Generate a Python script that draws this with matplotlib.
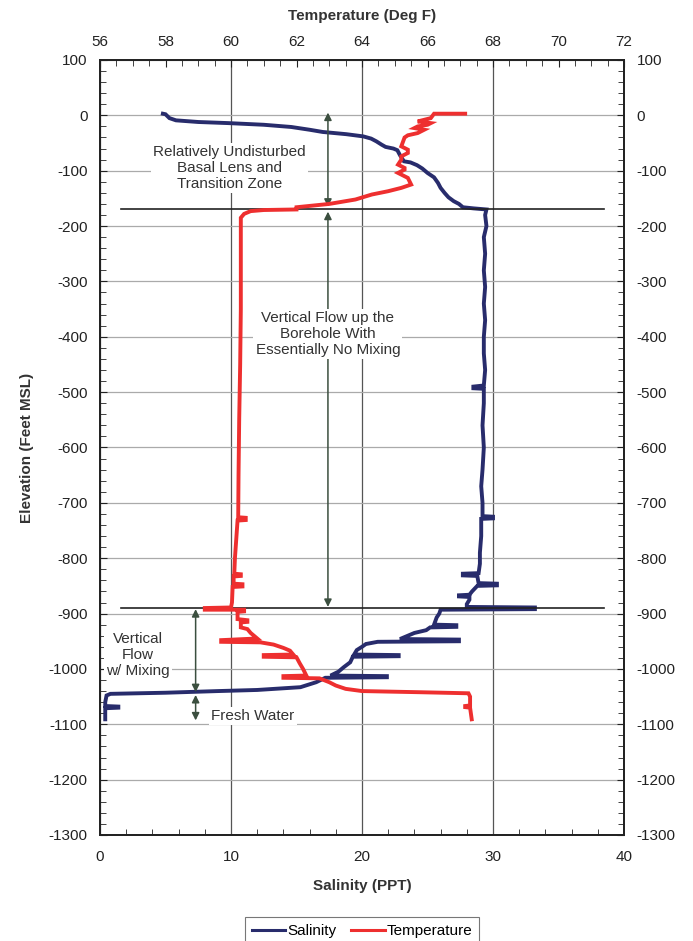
import matplotlib
matplotlib.use("Agg")
import numpy as np
import matplotlib.pyplot as plt
from matplotlib.ticker import MultipleLocator

plt.rcParams["font.family"] = ["Liberation Sans", "DejaVu Sans"]
plt.rcParams["axes.unicode_minus"] = False

# salinity profile (elevation ft MSL, salinity ppt)
sal_elev = [3, 2, -5, -9, -12, -14, -17, -21, -26, -30, -34, -38, -42, -47, -53, -57,
            -60, -63, -72, -83, -85, -90, -96, -104, -112, -122, -131, -140, -148, -155,
            -160, -166, -168, -170,
            -180, -200, -220, -250, -280, -310, -340, -370, -400, -430, -460, -488,
            -490, -493, -494, -520, -560, -600, -640, -670, -700, -724, -725, -728,
            -729, -760, -790, -810, -827, -828, -831, -832, -845, -846, -849, -850,
            -860, -866, -867, -869, -870, -875, -883, -888, -889, -892, -893,
            -900, -907, -920, -921, -924, -925, -930, -935, -940, -946, -947, -950,
            -951, -955, -960, -966, -974, -975, -977, -978, -988, -997, -1005, -1012,
            -1013, -1015, -1016, -1024, -1033, -1038, -1040, -1043, -1045, -1048,
            -1060, -1067, -1068, -1070, -1071, -1085, -1091]
sal_ppt = [4.8, 5.0, 5.3, 5.8, 7.5, 9.8, 12.5, 14.6, 16.0, 17.0, 18.8, 20.1, 20.7, 21.1, 21.5, 21.8,
           22.4, 22.7, 22.9, 23.2, 23.7, 24.2, 24.6, 25.0, 25.5, 25.8, 26.0, 26.3, 26.6, 27.0,
           27.4, 27.7, 28.5, 29.5,
           29.4, 29.5, 29.3, 29.4, 29.3, 29.4, 29.3, 29.4, 29.3, 29.3, 29.4, 29.3,
           28.5, 28.5, 29.3, 29.3, 29.2, 29.3, 29.2, 29.1, 29.2, 29.2, 30.0, 30.0,
           29.1, 29.1, 29.0, 29.0, 28.9, 27.7, 27.7, 28.8, 28.9, 30.3, 30.3, 28.8,
           28.4, 28.2, 27.4, 27.4, 28.2, 28.2, 28.0, 28.0, 33.2, 33.2, 26.0,
           25.9, 25.7, 25.5, 27.2, 27.2, 25.2, 24.9, 24.0, 23.5, 22.9, 27.4, 27.4,
           21.2, 20.3, 20.0, 19.6, 19.4, 22.8, 22.8, 19.3, 19.1, 18.6, 18.2, 17.6,
           21.9, 21.9, 17.2, 16.5, 15.3, 12.0, 9.0, 5.0, 0.8, 0.5,
           0.4, 0.4, 1.4, 1.4, 0.4, 0.4, 0.4]

# temperature profile (elevation ft MSL, deg F)
temp_elev = [3, 3, -5, -8, -11, -14, -17, -20, -23, -26, -29, -32, -36, -40, -56, -62,
             -68, -74, -80, -89, -95, -98, -104, -110, -113, -125, -131, -137, -143, -152,
             -160, -166, -170, -171, -173, -178, -185,
             -250, -350, -450, -550, -650, -726, -727, -731, -732, -800, -828, -829,
             -832, -833, -846, -847, -851, -852, -880, -889, -890, -893, -893, -896,
             -897, -910, -912, -915, -916, -925, -928, -935, -945, -948, -951, -952,
             -956, -962, -967, -974, -975, -978, -979, -990, -1000, -1012, -1013,
             -1016, -1017, -1024, -1030, -1036, -1040, -1042, -1044, -1050, -1066,
             -1067, -1069, -1070, -1091]
temp_f = [67.15, 66.2, 66.1, 65.9, 65.7, 66.1, 66.0, 65.7, 65.6, 65.9, 65.8, 65.7, 65.4, 65.3, 65.2, 65.4,
          65.4, 65.2, 65.2, 65.1, 65.3, 65.3, 65.1, 65.3, 65.4, 65.5, 65.2, 64.8, 64.3, 63.8,
          63.0, 62.0, 62.0, 61.0, 60.6, 60.4, 60.3,
          60.3, 60.3, 60.28, 60.25, 60.23, 60.22, 60.45, 60.45, 60.2, 60.12, 60.1, 60.3,
          60.3, 60.08, 60.08, 60.35, 60.35, 60.05, 60.03, 60.0, 59.2, 59.2, 60.4, 60.4,
          60.2, 60.2, 60.5, 60.5, 60.3, 60.3, 60.5, 60.6, 60.8, 59.7, 59.7, 60.9,
          61.3, 61.6, 61.8, 61.9, 61.0, 61.0, 62.0, 62.1, 62.2, 62.3, 61.6,
          61.6, 62.7, 63.0, 63.2, 63.5, 64.0, 65.7, 67.25, 67.3, 67.3,
          67.15, 67.15, 67.3, 67.35]

zone_bounds = [-170, -890]
zone_labels = ["Relatively Undisturbed\nBasal Lens and\nTransition Zone",
               "Vertical Flow up the\nBorehole With\nEssentially No Mixing",
               "Vertical\nFlow\nw/ Mixing",
               "Fresh Water"]

SAL_COLOR = "#282c6c"
TEMP_COLOR = "#ee2f2f"
ARROW_COLOR = "#3b4f3f"

fig = plt.figure(figsize=(6.93, 9.41), dpi=100)
ax = fig.add_axes([100 / 693, 1 - 835 / 941, 524 / 693, 775 / 941])

ax.set_xlim(0, 40)
ax.set_ylim(-1300, 100)
ax.xaxis.set_major_locator(MultipleLocator(10))
ax.xaxis.set_minor_locator(MultipleLocator(2))
ax.yaxis.set_major_locator(MultipleLocator(100))
ax.yaxis.set_minor_locator(MultipleLocator(20))
ax.xaxis.grid(True, which="major", color="#555555", lw=0.9)
ax.yaxis.grid(True, which="major", color="#aaaaaa", lw=0.9)
ax.set_axisbelow(True)

ax.plot(sal_ppt, sal_elev, color=SAL_COLOR, lw=2.8, solid_joinstyle="miter", label="Salinity")

# zone boundaries
for b in zone_bounds:
    ax.plot([1.6, 38.5], [b, b], color="#222222", lw=1.2, zorder=3)

# zone arrows
arr = dict(arrowstyle="<|-|>", color=ARROW_COLOR, lw=1.1, mutation_scale=11, shrinkA=0, shrinkB=0)
ax.annotate("", xy=(17.4, 5), xytext=(17.4, -165), arrowprops=arr, zorder=4)
ax.annotate("", xy=(17.4, -174), xytext=(17.4, -888), arrowprops=arr, zorder=4)
ax.annotate("", xy=(7.3, -892), xytext=(7.3, -1042), arrowprops=arr, zorder=4)
ax.annotate("", xy=(7.3, -1047), xytext=(7.3, -1093), arrowprops=arr, zorder=4)

box = dict(facecolor="white", edgecolor="none", pad=1.5)
ax.text(9.9, -95, zone_labels[0], ha="center", va="center", fontsize=11,
        color="#333333", linespacing=1.2, bbox=box, zorder=5)
ax.text(17.4, -395, zone_labels[1], ha="center", va="center", fontsize=11,
        color="#333333", linespacing=1.2, bbox=box, zorder=5)
ax.text(2.9, -975, zone_labels[2], ha="center", va="center", fontsize=11,
        color="#333333", linespacing=1.2, bbox=box, zorder=5)
ax.text(8.5, -1085, zone_labels[3], ha="left", va="center", fontsize=11,
        color="#333333", bbox=box, zorder=5)

# temperature on top axis
ax_t = ax.twiny()
ax_t.set_xlim(56, 72)
ax_t.xaxis.set_major_locator(MultipleLocator(2))
ax_t.xaxis.set_minor_locator(MultipleLocator(0.5))
ax_t.plot(temp_f, temp_elev, color=TEMP_COLOR, lw=2.8, solid_joinstyle="miter", label="Temperature")

for a in (ax, ax_t):
    for s in a.spines.values():
        s.set_linewidth(1.3)
        s.set_color("#222222")

ax.tick_params(axis="x", which="both", direction="in", bottom=True, top=False,
               labelsize=11, pad=11, colors="#222222")
ax.tick_params(axis="x", which="major", length=0)
ax.tick_params(axis="x", which="minor", length=4)
ax.tick_params(axis="y", which="both", direction="in", left=True, right=True,
               labelleft=True, labelright=True, labelsize=11, pad=9, colors="#222222")
ax.tick_params(axis="y", which="major", length=5)
ax.tick_params(axis="y", which="minor", length=4)
ax_t.tick_params(axis="x", which="both", direction="in", top=True, bottom=False,
                 labelsize=11, pad=8, colors="#222222")
ax_t.tick_params(axis="x", which="major", length=5)
ax_t.tick_params(axis="x", which="minor", length=4)

fig.text(362 / 693, 1 - 16 / 941, "Temperature (Deg F)", ha="center", va="center",
         fontsize=11, fontweight="bold", color="#333333")
fig.text(362 / 693, 1 - 886 / 941, "Salinity (PPT)", ha="center", va="center",
         fontsize=11, fontweight="bold", color="#333333")
fig.text(27 / 693, 1 - 448 / 941, "Elevation (Feet MSL)", ha="center", va="center",
         rotation=90, fontsize=11, fontweight="bold", color="#333333")

h1, l1 = ax.get_legend_handles_labels()
h2, l2 = ax_t.get_legend_handles_labels()
leg = fig.legend(h1 + h2, l1 + l2, loc="upper center", bbox_to_anchor=(362 / 693, 1 - 917 / 941),
                 ncol=2, fontsize=11, frameon=True, fancybox=False, edgecolor="#555555",
                 handlelength=2.2, handletextpad=0.1, columnspacing=1.0, borderpad=0.45,
                 borderaxespad=0)
leg.get_frame().set_linewidth(0.8)
for ln in leg.get_lines():
    ln.set_linewidth(2.2)

fig.savefig("out.png", dpi=100)
